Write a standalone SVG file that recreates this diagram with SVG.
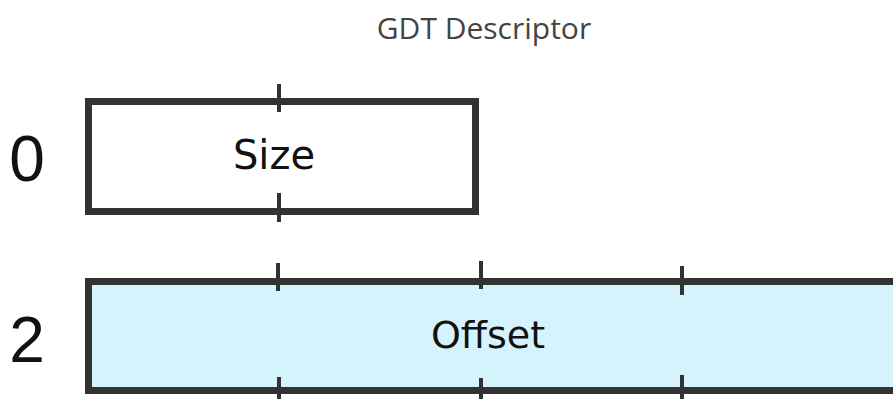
<svg xmlns="http://www.w3.org/2000/svg" width="893" height="399" viewBox="0 0 893 399">
<style>
.box{stroke:#333;stroke-width:7;}
.tick{stroke:#333;stroke-width:4;}
.lbl{font-family:"DejaVu Sans",sans-serif;fill:#111;text-anchor:middle;}
.num{font-family:"Liberation Sans",sans-serif;fill:#111;font-size:64px;text-anchor:middle;}
.title{font-family:"Open Sans",sans-serif;fill:#444;font-size:30px;text-anchor:middle;}
</style>
<rect width="893" height="399" fill="#fff"/>
<text class="title" x="484" y="39">GDT Descriptor</text>
<g id="row0">
<text class="num" x="27" y="181">0</text>
<rect class="box" x="88.5" y="101.5" width="387" height="110" fill="#fff"/>
<line class="tick" x1="279" y1="84" x2="279" y2="112"/>
<line class="tick" x1="279" y1="193" x2="279" y2="222"/>
<text class="lbl" x="274" y="169" font-size="40">Size</text>
</g>
<g id="row2">
<text class="num" x="27" y="362">2</text>
<rect class="box" x="88.5" y="281.5" width="820" height="109" fill="#d5f3fc"/>
<line class="tick" x1="278" y1="263" x2="278" y2="291"/>
<line class="tick" x1="481" y1="261" x2="481" y2="289"/>
<line class="tick" x1="682" y1="266" x2="682" y2="295"/>
<line class="tick" x1="279" y1="377" x2="279" y2="399"/>
<line class="tick" x1="481" y1="378" x2="481" y2="399"/>
<line class="tick" x1="682" y1="375" x2="682" y2="399"/>
<text class="lbl" x="488" y="348" font-size="38">Offset</text>
</g>
</svg>
